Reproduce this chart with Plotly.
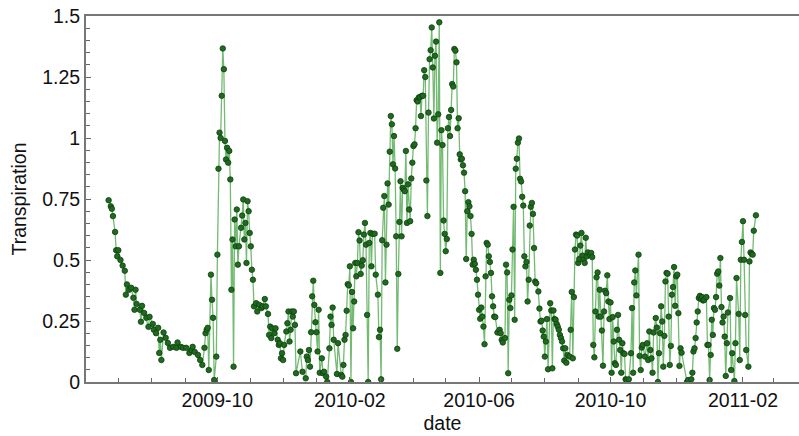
import pandas as pd
import plotly.graph_objects as go

# days since 2009-10-01
day_offset = [
    -101, -99, -98, -97, -95, -94, -93, -92, -90, -88, -86, -85, -84, -82, -80, -78, -77, -76, -75,
    -72, -71, -70, -68, -66, -64, -63, -60, -59, -57, -55, -54, -53, -52, -50, -48, -46, -44, -41,
    -38, -37, -34, -32, -29, -26, -24, -23, -21, -18, -16, -14, -12, -11, -10, -9, -8, -6, -5, -4,
    -3, -1, 0, 1, 2, 3, 4, 5, 6, 7, 8, 9, 10, 11, 12, 13, 14, 15, 16, 17, 18, 19, 20, 22, 23, 24,
    25, 26, 27, 28, 29, 30, 31, 32, 33, 34, 36, 37, 39, 41, 42, 44, 45, 47, 48, 49, 50, 51, 53, 54,
    56, 57, 58, 59, 60, 61, 62, 64, 65, 66, 67, 68, 69, 70, 71, 72, 73, 77, 79, 82, 83, 84, 85, 86,
    87, 88, 89, 90, 91, 92, 93, 94, 95, 97, 98, 99, 101, 102, 104, 105, 106, 107, 108, 111, 112,
    115, 116, 117, 118, 119, 120, 121, 122, 123, 124, 125, 126, 127, 128, 129, 130, 131, 132, 133,
    134, 135, 136, 137, 138, 139, 140, 141, 142, 143, 144, 146, 147, 149, 150, 151, 152, 153, 154,
    155, 156, 157, 158, 159, 160, 161, 162, 163, 164, 165, 166, 167, 168, 169, 170, 171, 172, 173,
    174, 175, 176, 177, 178, 179, 180, 181, 182, 183, 184, 185, 186, 187, 188, 189, 190, 191, 192,
    193, 194, 195, 196, 197, 198, 199, 200, 201, 202, 203, 204, 205, 206, 207, 208, 209, 210, 211,
    212, 213, 214, 215, 216, 217, 218, 219, 220, 221, 222, 223, 224, 225, 226, 227, 228, 229, 230,
    231, 232, 233, 234, 235, 236, 237, 238, 239, 240, 241, 242, 243, 244, 245, 246, 247, 248, 249,
    250, 251, 252, 253, 254, 255, 256, 257, 258, 260, 262, 263, 264, 265, 267, 268, 269, 270, 271,
    272, 273, 274, 275, 276, 277, 278, 279, 280, 281, 282, 283, 284, 285, 286, 287, 288, 289, 290,
    291, 292, 293, 294, 295, 296, 298, 299, 300, 301, 302, 303, 304, 305, 306, 307, 309, 310, 311,
    312, 313, 314, 315, 316, 317, 318, 319, 320, 321, 322, 323, 324, 325, 327, 328, 329, 330, 331,
    332, 333, 334, 335, 336, 337, 338, 339, 340, 341, 342, 343, 344, 346, 347, 348, 349, 350, 351,
    352, 353, 354, 355, 356, 357, 358, 359, 360, 361, 362, 363, 364, 365, 366, 367, 368, 369, 370,
    371, 372, 373, 374, 375, 376, 377, 378, 379, 380, 382, 384, 385, 386, 387, 388, 389, 391, 392,
    393, 394, 395, 397, 399, 400, 401, 402, 403, 404, 405, 407, 408, 409, 410, 411, 412, 413, 414,
    415, 416, 417, 418, 419, 420, 421, 422, 423, 424, 425, 426, 427, 428, 429, 430, 431, 436, 437,
    440, 441, 442, 443, 444, 445, 446, 447, 448, 449, 450, 451, 452, 454, 455, 456, 457, 458, 459,
    460, 461, 462, 463, 464, 465, 466, 467, 468, 469, 470, 471, 472, 473, 474, 476, 477, 478, 480,
    481, 482, 484, 485, 486, 487, 488, 489, 490, 491, 493, 494, 495, 496, 497, 498, 500,
]

transpiration = [
    0.745, 0.72, 0.71, 0.68, 0.615, 0.54, 0.515, 0.54, 0.50, 0.477, 0.456, 0.358, 0.40, 0.378, 0.386, 0.345, 0.296, 0.378, 0.32,
    0.296, 0.247, 0.312, 0.283, 0.263, 0.226, 0.267, 0.238, 0.214, 0.20, 0.222, 0.119, 0.173, 0.09, 0.203, 0.181, 0.16, 0.14, 0.144,
    0.14, 0.162, 0.144, 0.14, 0.14, 0.119, 0.131, 0.144, 0.123, 0.111, 0.09, 0.07, 0.14, 0.2, 0.214, 0.222, 0.049, 0.44, 0.337, 0.263,
    0.008, 0.104, 0.522, 0.874, 1.022, 1.0, 1.173, 1.367, 1.282, 0.988, 0.912, 0.96, 0.899, 0.947, 0.83, 0.378, 0.584, 0.063, 0.666, 0.556, 0.707, 0.481, 0.556, 0.632, 0.682, 0.748,
    0.584, 0.652, 0.488, 0.741, 0.70, 0.611, 0.556, 0.46, 0.419, 0.31, 0.323, 0.289, 0.316, 0.303, 0.31, 0.34, 0.31, 0.279, 0.193, 0.227, 0.18, 0.22, 0.2, 0.22,
    0.173, 0.152, 0.159, 0.097, 0.118, 0.09, 0.152, 0.207, 0.241, 0.289, 0.166, 0.214, 0.289, 0.268, 0.289, 0.234, 0.036, 0.125, 0.042, 0.015, 0.104, 0.09, 0.131, 0.063,
    0.204, 0.351, 0.415, 0.316, 0.245, 0.204, 0.125, 0.296, 0.038, 0.097, 0.036, 0.042, 0.022, 0.0, 0.138, 0.268, 0.234, 0.305, 0.173, 0.033, 0.159,
    0.029, 0.022, 0.07, 0.173, 0.193, 0.292, 0.401, 0.396, 0.474, 0.0, 0.369, 0.22, 0.33, 0.488, 0.433, 0.488, 0.614, 0.58, 0.443,
    0.477, 0.499, 0.604, 0.652, 0.563, 0.275, 0.0, 0.57, 0.611, 0.474, 0.607, 0.608, 0.44, 0.358, 0.184, 0.214, 0.011, 0.581, 0.714,
    0.762, 0.408, 0.563, 0.814, 0.727, 0.944, 1.09, 1.056, 0.892, 1.008, 0.875, 0.597, 0.136, 0.443, 0.656, 0.823, 0.597, 0.796, 0.789,
    0.782, 0.947, 0.652, 0.81, 0.707, 0.659, 0.834, 0.899, 0.967, 0.974, 1.04, 1.155, 1.15, 1.166, 1.168, 1.09, 1.173, 1.173, 1.278,
    1.25, 0.826, 0.68, 1.104, 1.323, 1.36, 1.453, 1.289, 1.08, 1.337, 1.395, 0.981, 1.097, 1.474, 0.447, 1.032, 0.971, 0.662, 0.607,
    0.536, 0.586, 1.04, 1.086, 1.008, 1.115, 1.221, 1.211, 1.365, 1.358, 1.31, 1.04, 1.081, 0.933, 0.912, 0.915, 0.888, 0.858, 0.782,
    0.504, 0.70, 0.737, 0.72, 0.68, 0.607, 0.481, 0.501, 0.484, 0.46, 0.419, 0.358, 0.296, 0.259, 0.305, 0.268, 0.227, 0.155, 0.433,
    0.57, 0.563, 0.515, 0.492, 0.447, 0.351, 0.31, 0.268, 0.266, 0.203, 0.214, 0.2, 0.173, 0.162, 0.18, 0.481, 0.449, 0.036, 0.337,
    0.303, 0.355, 0.543, 0.718, 0.255, 0.874, 0.915, 0.981, 0.998, 0.833, 0.822, 0.759, 0.723, 0.515, 0.474, 0.492, 0.33, 0.419, 0.641,
    0.718, 0.734, 0.689, 0.549, 0.412, 0.405, 0.371, 0.301, 0.248, 0.251, 0.211, 0.186, 0.104, 0.166, 0.258, 0.052, 0.323, 0.293, 0.056,
    0.293, 0.258, 0.255, 0.238, 0.227, 0.214, 0.193, 0.18, 0.166, 0.138, 0.088, 0.138, 0.079, 0.111, 0.104, 0.214, 0.369, 0.097, 0.348,
    0.543, 0.604, 0.60, 0.488, 0.504, 0.559, 0.611, 0.518, 0.501, 0.488, 0.591, 0.515, 0.531, 0.522, 0.529, 0.512, 0.152, 0.101, 0.289,
    0.429, 0.449, 0.268, 0.378, 0.268, 0.211, 0.067, 0.289, 0.374, 0.364, 0.437, 0.33, 0.258, 0.326, 0.038, 0.266, 0.166, 0.077, 0.07,
    0.214, 0.275, 0.173, 0.131, 0.038, 0.159, 0.118, 0.115, 0.011, 0.008, 0.011, 0.118, 0.303, 0.038, 0.408, 0.457, 0.355, 0.522, 0.107,
    0.049, 0.141, 0.152, 0.104, 0.159, 0.09, 0.207, 0.131, 0.097, 0.038, 0.203, 0.262, 0.223, 0.0, 0.118, 0.2, 0.31, 0.248, 0.063,
    0.189, 0.412, 0.447, 0.444, 0.268, 0.07, 0.148, 0.358, 0.389, 0.471, 0.312, 0.433, 0.44, 0.282, 0.066, 0.138, 0.12, 0.0, 0.008,
    0.011, 0.038, 0.125, 0.138, 0.18, 0.244, 0.289, 0.344, 0.353, 0.34, 0.348, 0.334, 0.337, 0.348, 0.152, 0.152, 0.008, 0.111, 0.255,
    0.193, 0.303, 0.296, 0.348, 0.444, 0.453, 0.395, 0.508, 0.307, 0.244, 0.268, 0.186, 0.025, 0.159, 0.285, 0.344, 0.049, 0.118, 0.004,
    0.159, 0.426, 0.279, 0.09, 0.501, 0.574, 0.659, 0.501, 0.275, 0.131, 0.063, 0.494, 0.531, 0.526, 0.522, 0.62, 0.683,
]

base_date = "2009-10-01"
x_range = ["2009-06-01", "2011-03-25"]
x_ticks = ["2009-10-01", "2010-02-01", "2010-06-01", "2010-10-01", "2011-02-01"]
x_tick_labels = ["2009-10", "2010-02", "2010-06", "2010-10", "2011-02"]
y_ticks = [0, 0.25, 0.5, 0.75, 1, 1.25, 1.5]
y_tick_labels = ["0", "0.25", "0.5", "0.75", "1", "1.25", "1.5"]

assert len(day_offset) == len(transpiration), (len(day_offset), len(transpiration))

dates = pd.Timestamp(base_date) + pd.to_timedelta(day_offset, unit="D")

fig = go.Figure()
fig.add_trace(go.Scatter(
    x=dates, y=transpiration, mode="lines+markers",
    line=dict(color="rgba(80,170,80,0.8)", width=1.3),
    marker=dict(size=5.5, color="#1f6a1f", line=dict(color="#0f400f", width=0.8)),
    showlegend=False,
))

font_family = "Liberation Sans, Arial, sans-serif"
fs = 19.5
fig.update_layout(
    width=799, height=436,
    margin=dict(l=86, r=0, t=16, b=54),
    paper_bgcolor="white", plot_bgcolor="white",
    font=dict(family=font_family, size=fs, color="#111"),
    xaxis=dict(
        type="date", range=x_range, automargin=False,
        tickvals=x_ticks, ticktext=x_tick_labels,
        ticks="inside", ticklen=5, tickcolor="#666", tickwidth=1,
        minor=dict(dtick="M1", tick0="2009-10-01", ticks="inside", ticklen=4, tickcolor="#666"),
        showline=True, linecolor="#777", linewidth=2, mirror=True,
        showgrid=False, zeroline=False,
        title=dict(text="date", standoff=6, font=dict(size=fs)),
        tickfont=dict(size=fs),
    ),
    yaxis=dict(
        range=[0, 1.5], automargin=False,
        tickvals=y_ticks, ticktext=y_tick_labels,
        ticks="inside", ticklen=5, tickcolor="#666", tickwidth=1,
        minor=dict(dtick=0.05, ticks="inside", ticklen=4, tickcolor="#666"),
        showline=True, linecolor="#777", linewidth=2,
        showgrid=False, zeroline=False,
        title=dict(text="Transpiration", standoff=10, font=dict(size=fs)),
        tickfont=dict(size=fs),
    ),
)

fig.write_html(
    "out.html",
    config={"displayModeBar": False},
    post_script="document.body.style.margin='0';",
)
